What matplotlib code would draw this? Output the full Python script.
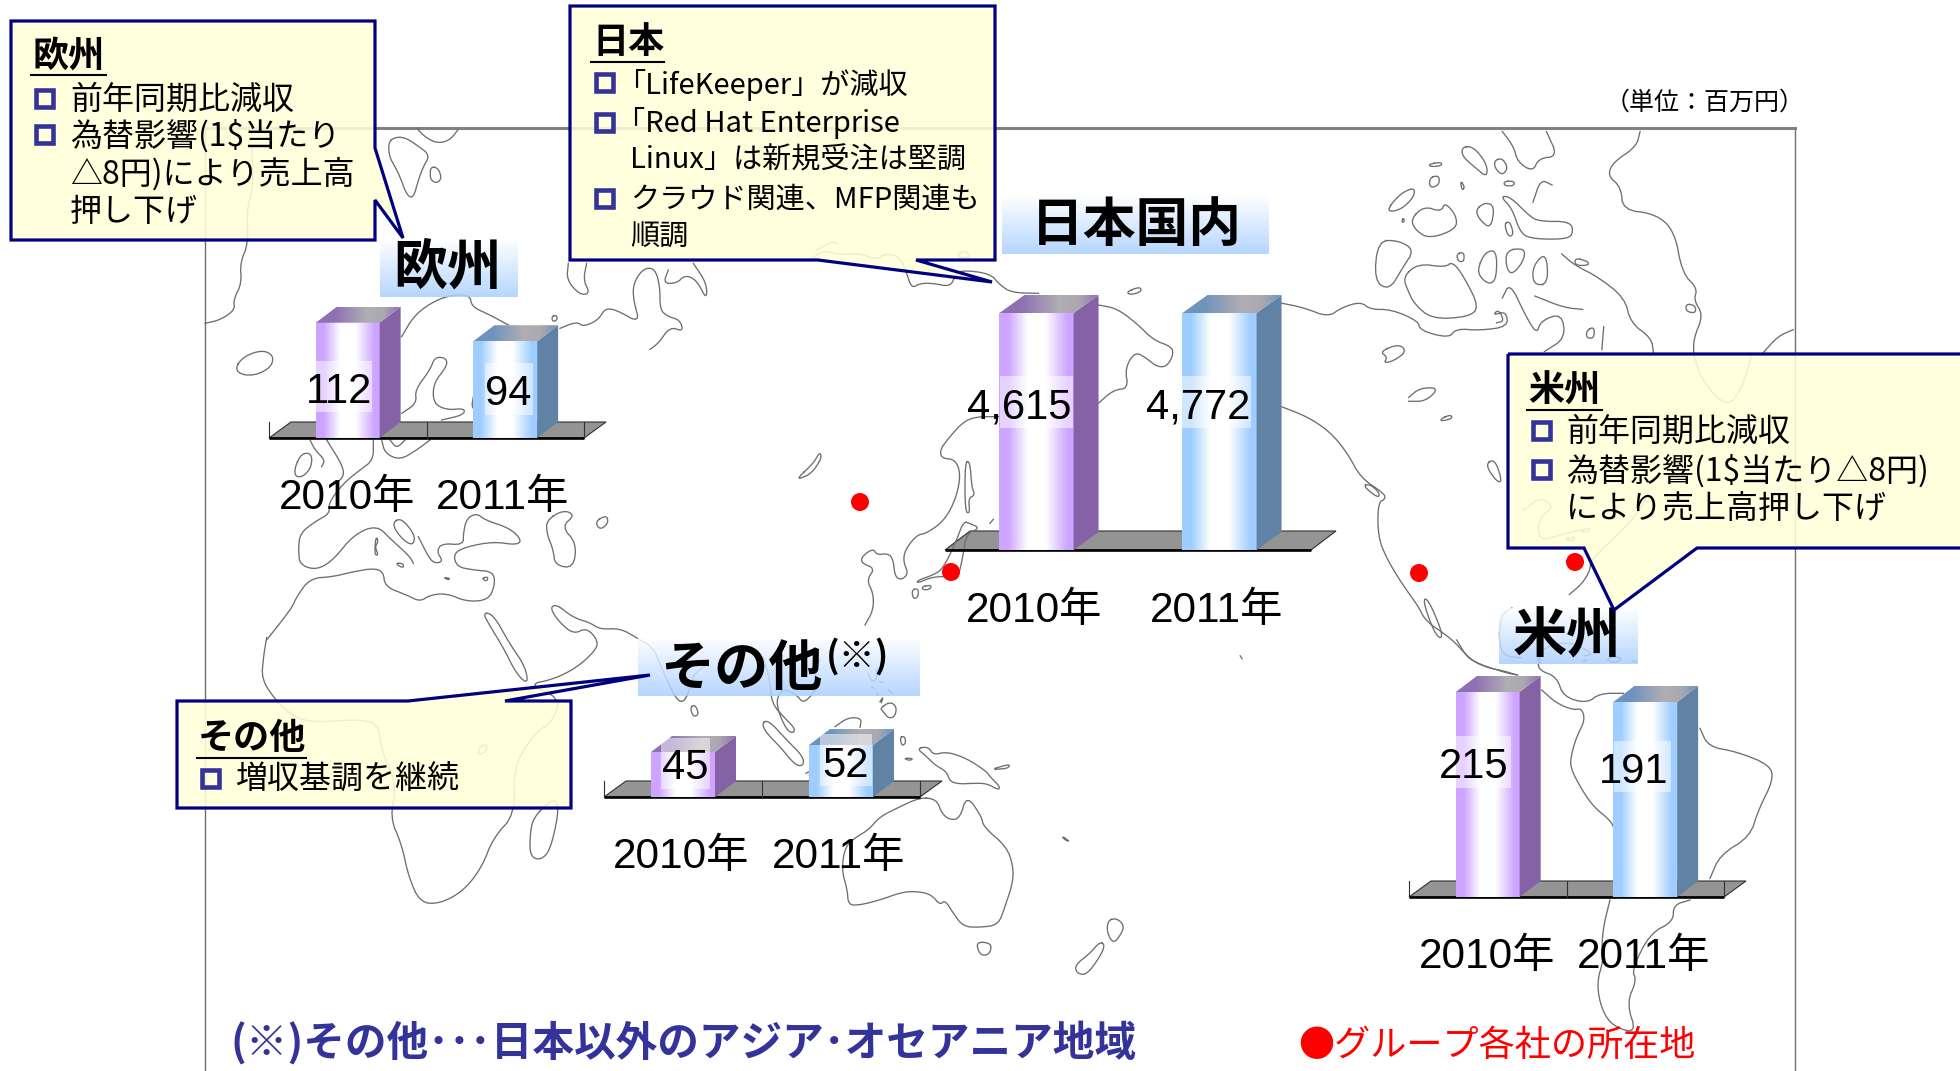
import numpy as np
import matplotlib
matplotlib.use('Agg')
import matplotlib.pyplot as plt
from matplotlib.patches import Polygon, Rectangle, Circle

plt.rcParams['font.family'] = ['Liberation Sans', 'Noto Sans CJK JP', 'DejaVu Sans']
CJK = ['Noto Sans CJK JP', 'DejaVu Sans']

W, H = 1960, 1071

# data
year_labels = ['2010年', '2011年']
europe_sales = [112, 94]
japan_sales = [4615, 4772]
americas_sales = [215, 191]
other_sales = [45, 52]

office_x = [860, 951, 1419, 1575]
office_y = [502, 572, 573, 562]

europe_notes = ['前年同期比減収', '為替影響(1$当たり', '△8円)により売上高', '押し下げ']
japan_notes = ['「LifeKeeper」が減収', '「Red Hat Enterprise', 'Linux」は新規受注は堅調',
               'クラウド関連、MFP関連も', '順調']
americas_notes = ['前年同期比減収', '為替影響(1$当たり△8円)', 'により売上高押し下げ']
other_notes = ['増収基調を継続']

# coastlines, traced by hand. Each entry: crop origin x, y, crop scale, list of outlines
coast_a = [
    [(650,25),(680,55),(715,70),(750,60),(775,28)],
    [(565,65),(590,50),(620,55),(650,75),(690,105),(670,140),(655,180),(640,235),(620,225),(600,170),(585,140),(568,110),(565,65)],
    [(695,140),(715,145),(725,175),(710,190),(692,180),(690,155),(695,140)],
    [(155,80),(160,200),(140,270),(145,370),(120,430),(125,490),(100,540),(105,570),(60,600),(15,610)],
    [(105,745),(130,710),(185,690),(220,705),(215,740),(170,765),(125,765),(105,745)],
    [(605,650),(640,590),(690,550),(750,525),(810,525),(815,560),(870,585),(925,615)],
    [(1080,625),(1130,605),(1150,620),(1195,600),(1215,565),(1250,570),(1320,610),(1300,540),(1300,490),(1330,445),(1365,445),(1380,500),(1380,570),(1405,590),(1440,600),(1450,635),(1410,620),(1375,670),(1350,688)],
    [(1105,430),(1100,480),(1140,525),(1170,520),(1150,480),(1160,430)],
    [(1405,450),(1390,490),(1430,490),(1455,465),(1490,480),(1520,540),(1520,490),(1480,430)],
    [(1055,590),(1070,585),(1072,600),(1058,605),(1055,590)],
    [(605,880),(650,850),(645,810),(690,750),(705,710),(740,715),(740,740),(700,790),(700,850),(740,870),(795,865),(790,885),(725,900)],
    [(820,830),(815,860),(825,870)],
    [(285,1040),(305,1000),(335,1000),(335,1040),(310,1070),(285,1070),(285,1040)],
    [(330,960),(345,990),(375,1020),(365,1040)],
    [(380,960),(430,1040),(430,1075),(390,1100)],
    [(545,960),(555,1000),(600,1020),(650,990),(690,960)],
    [(570,960),(590,985),(615,960)],
    [(520,960),(520,1020),(480,1050),(430,1090),(385,1150),(390,1180),(345,1205),(300,1240),(295,1290),(300,1335),(350,1350),(400,1320),(460,1245),(530,1215),(575,1260),(630,1310),(640,1330)],
    [(580,1205),(605,1195),(645,1245),(640,1275),(615,1265),(585,1230),(580,1205)],
    [(655,1250),(680,1300),(700,1330),(730,1325),(710,1295),(725,1270),(790,1275),(790,1240),(800,1195),(830,1180),(855,1200),(930,1225),(965,1260),(950,1275),(880,1265),(800,1280),(760,1300),(770,1340),(820,1350),(880,1355),(885,1395),(865,1440),(800,1445),(740,1420),(690,1425),(660,1445),(620,1425),(555,1400),(550,1355),(520,1345),(460,1355),(400,1370),(330,1375),(290,1430),(275,1465),(200,1560)],
    [(1040,1200),(1090,1170),(1125,1185),(1085,1220),(1130,1270),(1120,1345),(1065,1335),(1060,1290),(1040,1240),(1040,1200)],
    [(1185,1205),(1220,1185),(1225,1210),(1200,1230),(1185,1205)],
    [(730,1372),(750,1375),(745,1380),(730,1372)],
    [(845,1375),(865,1370),(860,1385),(845,1375)],
    [(585,1330),(610,1330),(610,1345),(585,1330)],
    [(528,1250),(535,1265),(525,1280),(535,1305),(525,1305),(525,1280),(528,1250)],
]
coast_b = [
    [(200,260),(190,320),(185,385),(225,445),(260,480),(310,510),(385,512),(480,505),(535,520),(545,600),(590,700),(570,800),(605,880),(625,975),(660,1055),(720,1058),(790,1020),(845,950),(880,860),(945,790),(940,650),(1000,550),(1060,510),(1080,440),(985,400),(1060,385),(1130,350),(1185,300),(1195,270),(1160,230),(1120,250),(1075,210),(1050,170),(1070,160),(1120,200),(1170,215),(1200,235),(1260,232),(1310,260),(1360,290),(1380,340),(1420,430),(1445,458),(1465,430),(1480,370),(1520,340)],
    [(848,185),(880,190),(930,280),(975,345),(985,400),(950,370),(910,290),(870,225),(848,185)],
    [(1470,470),(1485,460),(1497,490),(1480,498),(1470,470)],
    [(1000,800),(1050,750),(1070,750),(1075,790),(1050,900),(1020,928),(990,915),(990,850),(1000,800)],
    [(835,590),(860,578),(860,600),(838,612),(835,590)],
]
coast_c = [
    [(330,60),(370,30),(420,45),(480,40),(530,60),(555,40),(600,50),(620,100),(635,145),(660,130),(700,130),(750,140),(765,110),(780,90),(870,100),(900,135),(935,158),(1015,160)],
    [(1195,195),(1250,205),(1310,250),(1360,300),(1415,320),(1420,345),(1400,380),(1370,380),(1340,355),(1305,335),(1275,385),(1285,445),(1240,450),(1195,490)],
    [(900,530),(830,530),(790,545),(745,595),(720,630),(725,655),(765,658),(782,700),(770,770),(735,840),(680,880),(650,885),(615,930),(610,965),(625,1000),(605,1020),(585,1010),(580,960),(565,940),(530,945),(520,925),(485,950),(485,970),(525,985),(500,1020),(520,1060),(520,1110),(495,1155)],
    [(295,712),(340,670),(360,635),(365,655),(335,700),(300,716),(295,712)],
    [(795,665),(810,665),(815,740),(825,765),(805,775),(810,820),(795,815),(795,665)],
    [(790,845),(810,850),(840,865),(800,880),(790,940),(780,990),(770,1020),(750,1010),(700,1010),(650,1030),(655,1020),(700,1005),(730,985),(770,900),(790,845)],
    [(635,1050),(655,1045),(655,1070),(640,1078),(635,1050)],
    [(665,1040),(695,1035),(690,1048),(670,1050),(665,1040)],
    [(1280,155),(1320,140),(1325,155),(1290,165),(1280,155)],
    [(870,850),(880,838)],
    [(350,30),(395,5),(410,10)],
    [(770,45),(795,32),(810,50),(790,55),(770,45)],
]
coast_d = [
    [(130,50),(150,120),(155,190),(195,235),(225,265),(220,280),(200,270),(175,215),(170,175),(190,145),(230,165),(250,190),(280,160),(295,130),(280,95),(300,60)],
    [(125,250),(145,240),(200,300),(250,350),(250,378),(225,375),(180,320),(140,280),(125,250)],
    [(345,260),(385,232),(425,235),(420,262)],
    [(258,400),(270,393),(268,405)],
    [(480,205),(510,185),(530,200),(525,230),(505,235),(490,215),(480,205)],
    [(480,185),(490,170),(484,188)],
    [(455,140),(462,145)],[(470,160),(475,165)],[(505,150),(515,158)],[(478,125),(488,128)],
    [(445,100),(455,125),(470,120),(472,85)],
    [(540,290),(555,290),(557,310),(545,318),(540,290)],
    [(550,355),(580,355),(570,362),(550,355)],
    [(590,325),(625,320),(640,345),(680,335),(740,355),(800,395),(810,410),(840,440),(835,450),(800,430),(755,430),(720,432),(690,425),(680,395),(645,375),(620,350),(590,325)],
    [(825,385),(870,372),(865,385),(825,388)],
    [(600,472),(650,478),(665,520),(690,540),(720,535),(740,465),(785,530),(790,560),(860,620),(880,680),(878,730),(855,800),(835,855),(780,862),(730,860),(700,820),(675,780),(660,795),(635,765),(600,755),(550,755),(480,780),(420,795),(385,795),(382,750),(365,690),(375,620),(410,590),(445,570),(480,530),(530,505),(600,472)],
    [(770,905),(815,910),(810,940),(790,948),(775,935),(770,905)],
    [(1165,840),(1190,835),(1212,855),(1205,880),(1180,912),(1160,875),(1165,840)],
    [(1140,905),(1155,915),(1140,950),(1100,1005),(1070,1000),(1065,975),(1110,940),(1140,905)],
    [(1025,588),(1050,605),(1035,600),(1025,588)],
]
coast_e = [
    [(210,478),(270,490),(335,515),(370,490),(420,475),(445,495),(500,495),(570,525),(575,550),(650,570),(670,545),(730,550),(805,540),(800,500),(765,510),(780,495),(795,525),(775,530)],
    [(210,748),(280,775),(340,815),(385,870),(420,935),(480,975),(485,990),(465,1000),(465,1090),(490,1150),(530,1215),(570,1270),(590,1310),(650,1350),(685,1385),(710,1415),(800,1445),(830,1450)],
    [(582,1255),(595,1250),(632,1335),(630,1358),(610,1335),(582,1255)],
    [(425,955),(445,952),(470,975),(465,988),(425,955)],
    [(470,605),(520,585),(540,605),(505,630),(480,635),(490,620),(470,605)],
    [(545,725),(575,700),(625,700),(590,735),(545,735)],
    [(630,780),(655,770),(660,780),(630,787),(630,780)],
    [(745,900),(770,885),(790,945),(775,945),(745,900)],
    [(685,70),(715,70),(750,115),(750,150),(720,125),(685,95),(685,70)],
    [(770,105),(790,100),(805,125),(790,145),(770,125),(770,105)],
    [(600,115),(630,110),(632,120),(600,122),(600,115)],
    [(600,150),(625,145),(625,170),(600,178),(600,150)],
    [(680,158),(692,175),(685,185),(680,158)],
    [(795,160),(822,160),(820,172),(795,172),(795,160)],
    [(790,30),(820,70),(830,110),(870,135),(885,100),(935,95),(905,30)],
    [(1150,30),(1140,70),(1080,110),(1065,145),(1100,175),(1105,235),(1190,245),(1240,290),(1260,400),(1300,440),(1290,470),(1315,510),(1290,570),(1290,610)],
    [(1270,480),(1295,485),(1295,505),(1270,500),(1270,480)],
    [(1470,610),(1510,565),(1550,548)],
    [(870,215),(890,155),(920,170)],
    [(785,200),(810,200),(860,250),(885,265),(970,265),(975,300),(950,312),(860,310),(835,290),(815,230),(785,200)],
    [(720,235),(745,215),(770,225),(760,285),(730,260),(720,235)],
    [(795,270),(810,265),(820,300),(805,305),(795,270)],
    [(485,240),(520,195),(560,175),(560,200),(525,235),(485,240)],
    [(530,255),(535,265),(527,268),(530,255)],
    [(550,260),(585,225),(630,240),(640,215),(670,250),(670,285),(600,310),(565,290),(550,260)],
    [(465,315),(520,315),(560,340),(530,385),(495,445),(455,420),(465,315)],
    [(530,410),(570,375),(640,385),(660,370),(690,410),(730,490),(700,515),(605,520),(560,480),(545,450),(530,410)],
    [(670,350),(690,345),(690,370),(675,370),(670,350)],
    [(725,390),(745,345),(775,340),(775,410),(760,430),(735,415),(725,390)],
    [(800,340),(850,335),(845,370),(815,405),(800,385),(800,340)],
    [(910,430),(870,430),(870,380),(905,345),(910,430)],
    [(945,350),(980,380),(1040,410),(1110,465),(1125,530),(1180,570),(1185,610)],
    [(980,360),(1015,370),(1015,380),(980,380),(980,360)],
    [(790,465),(810,425),(850,510),(880,560),(890,525),(945,505),(955,570),(900,605)],
    [(875,460),(950,490),(1000,495)],
    [(1010,550),(1030,540),(1030,570),(1010,570),(1010,550)],
    [(1055,540),(1050,600)],
    [(965,1240),(1000,1210),(1020,1175),(1020,1150),(1100,1075),(1150,1020),(1170,980)],
    [(845,1020),(890,985),(925,1010),(885,1040),(885,1100),(940,1085),(1000,1070)],
    [(950,1095),(980,1088),(975,1100),(950,1095)],
    [(990,1075),(1020,1065),(1015,1078),(990,1075)],
    [(1290,610),(1310,680),(1380,755),(1420,690),(1440,620)],
    [(890,1420),(885,1385),(960,1360),(1030,1395),(1005,1400)],
    [(840,1405),(790,1400),(780,1345),(790,1290),(815,1275)],
    [(1060,1410),(1085,1400),(1105,1410),(1080,1418),(1060,1410)],
    [(1000,1415),(1010,1412)],[(1130,1415),(1140,1414)],
    [(105,1400),(110,1408)],
]
coast_f = [
    [(290,0),(320,50),(370,80),(440,95),(470,105)],
    [(535,55),(535,90),(590,110),(610,170),(680,190),(720,160),(790,160)],
    [(545,150),(590,190),(640,210),(665,205),(675,240),(650,290),(635,340),(630,380),(660,440),(700,500),(750,540),(765,570)],
    [(750,780),(730,860),(725,930),(730,960),(710,1030),(725,1110),(760,1160),(830,1180),(800,1090),(830,1020),(815,990),(870,880),(940,845),(940,795),(990,780)],
    [(1020,265),(1045,320),(1130,335),(1230,375),(1240,420),(1195,510),(1170,590),(1080,645),(1050,715)],
]
coast_parts = [(200, 120, 3.0, coast_a), (200, 551, 3.0, coast_b), (700, 240, 3.0, coast_c),
               (720, 640, 3.0, coast_d), (1200, 120, 2.613, coast_e), (1360, 640, 3.0, coast_f)]


def smooth(pts):
    # two rounds of corner cutting, the traced coast looks too angular otherwise
    pts = np.array(pts, float)
    for _ in range(2):
        if len(pts) < 3:
            return pts
        a = pts[:-1] * 0.75 + pts[1:] * 0.25
        b = pts[:-1] * 0.25 + pts[1:] * 0.75
        mid = np.empty((len(a) * 2, 2))
        mid[0::2] = a
        mid[1::2] = b
        closed = np.allclose(pts[0], pts[-1])
        if closed:
            pts = np.vstack([mid, mid[0]])
        else:
            pts = np.vstack([pts[0], mid, pts[-1]])
    return pts


fig = plt.figure(figsize=(W / 100, H / 100), dpi=100, facecolor='white')


def px_axes(z):
    a = fig.add_axes([0, 0, 1, 1], zorder=z)
    a.set_xlim(0, W)
    a.set_ylim(H, 0)
    a.axis('off')
    a.patch.set_alpha(0)
    return a


bg = px_axes(0)
top = px_axes(5)

# map frame
bg.plot([205, 205], [128, H], color='#707070', lw=1.0)
bg.plot([1795, 1795], [128, H], color='#707070', lw=1.0)
bg.plot([205, 1795], [128, 128], color='#808080', lw=2.2)

for ox, oy, s, outlines in coast_parts:
    for line in outlines:
        p = smooth(line)
        bg.plot(ox + p[:, 0] / s, oy + p[:, 1] / s, color='#6e6e6e', lw=0.95,
                solid_joinstyle='round')


def hgrad(stops, n=128):
    pos = [s[0] for s in stops]
    cols = np.array([matplotlib.colors.to_rgb(s[1]) for s in stops])
    t = np.linspace(0, 1, n)
    return np.dstack([np.interp(t, pos, cols[:, i]) for i in range(3)])


purple = dict(front='#CDA4FF', side='#8462A5', lid='#8F70B2')
blue = dict(front='#9FCDFF', side='#6083A5', lid='#6E93BD')


def draw_group(values, left, right, base_y, axis_h, ylim, depth, floor_depth, ticks,
               label_xy, label_box, year_xy, bar_w=0.405):
    # one small axes per region, the bars go through its own y scale
    ax = fig.add_axes([left / W, 1 - base_y / H, (right - left) / W, axis_h / H], zorder=2)
    ax.set_xlim(-0.5, 1.5)
    ax.set_ylim(*ylim)
    ax.axis('off')
    ax.patch.set_alpha(0)

    # floor
    fdx, fdy = floor_depth
    bg.add_patch(Polygon([(left, base_y), (right, base_y), (right + fdx, base_y - fdy),
                          (left + fdx, base_y - fdy)], closed=True, facecolor='#949494',
                         edgecolor='#303030', lw=0.8))
    bg.plot([left, right], [base_y, base_y], color='black', lw=1.9, solid_capstyle='butt')
    if ticks:
        for tx in [left, (left + right) / 2, right]:
            bg.plot([tx, tx], [base_y, base_y - 16], color='#303030', lw=0.8)

    to_px = lambda pts: top.transData.inverted().transform(ax.transData.transform(pts))
    dx, dy = depth
    for i, (val, style) in enumerate(zip(values, [purple, blue])):
        bar = ax.bar(i, val - ylim[0], bottom=ylim[0], width=bar_w, color='none', linewidth=0)[0]
        v_top = min(val, ylim[1])
        grad = hgrad([(0, style['front']), (0.12, style['front']), (0.38, '#FFFFFF'),
                      (0.62, '#FFFFFF'), (0.92, style['front']), (1, style['front'])])
        ax.imshow(grad, extent=(i - bar_w / 2, i + bar_w / 2, ylim[0], v_top),
                  aspect='auto', clip_path=bar, zorder=2)
        (x0, y1), (x1, y0) = to_px([(i - bar_w / 2, v_top), (i + bar_w / 2, ylim[0])])
        top.add_patch(Polygon([(x1, y1), (x1 + dx, y1 - dy), (x1 + dx, y0 - dy), (x1, y0)],
                              closed=True, facecolor=style['side'], edgecolor='none', zorder=3))
        lid = Polygon([(x0, y1), (x0 + dx, y1 - dy), (x1 + dx, y1 - dy), (x1, y1)],
                      closed=True, facecolor='none', edgecolor='none')
        top.add_patch(lid)
        im = top.imshow(hgrad([(0, style['lid']), (0.22, style['lid']), (0.6, '#B0AEB2'),
                               (0.8, '#ABA8B0'), (1, style['lid'])]),
                        extent=(x0, x1 + dx, y1, y1 - dy), aspect='auto', zorder=3)
        im.set_clip_path(lid)

        bx0, by0, bx1, by1 = label_box[i]
        top.add_patch(Rectangle((bx0, by0), bx1 - bx0, by1 - by0, facecolor='white',
                                alpha=0.5, edgecolor='none', zorder=4))
        top.text(label_xy[i][0], label_xy[i][1], f'{val:,}', fontsize=30, ha='center',
                 va='center', color='black', zorder=6)
        top.text(year_xy[i][0], year_xy[i][1], year_labels[i], fontsize=30.5, ha='center',
                 va='center', color='black', zorder=6)


# value scale of each group, the Japan axis is cut off so both bars reach its top
draw_group(europe_sales, 269, 584, 438, 140, (0, 136), (21, 16), (22, 16), True,
           [(339, 392), (508, 394)], [(316, 361, 372, 412), (485, 363, 533, 415)],
           [(347, 498), (503, 498)])
draw_group(japan_sales, 945, 1311, 550, 237, (0, 4000), (25, 18), (25, 19), False,
           [(1019, 408), (1198, 408)], [(1000, 376, 1073, 428), (1182, 376, 1251, 428)],
           [(1034, 611), (1217, 611)])
draw_group(americas_sales, 1409, 1724, 897, 205, (-277, 215), (21, 16), (22, 16), True,
           [(1474, 767), (1634, 772)], [(1456, 736, 1511, 788), (1614, 741, 1671, 792)],
           [(1487, 957), (1644, 957)])
draw_group(other_sales, 604, 920, 797, 60, (0, 60), (21, 16), (22, 16), True,
           [(685, 768), (846, 766)], [(661, 738, 710, 789), (820, 734, 872, 786)],
           [(681, 857), (839, 857)])


def title_box(x0, y0, x1, y1, text, tx, ty, size=39):
    n = 64
    g = np.ones((n, 1, 4))
    c0, c1 = np.array([1, 1, 1]), np.array(matplotlib.colors.to_rgb('#A9CFFF'))
    t = np.linspace(0, 1, n)[:, None]
    g[:, 0, :3] = c0 * (1 - t) + c1 * t
    g[:, 0, 3] = 0.85
    top.imshow(g, extent=(x0, x1, y1, y0), aspect='auto', zorder=4)
    top.text(tx, ty, text, fontsize=size, fontweight='bold', ha='center', va='center',
             family=CJK, zorder=6)


title_box(380, 239, 517, 297, '欧州', 447, 268)
title_box(1002, 195, 1269, 254, '日本国内', 1136, 225, 38)
title_box(1499, 608, 1637, 664, '米州', 1567, 637)
title_box(638, 637, 919, 696, 'その他', 741, 669)
top.text(858, 657, '(※)', fontsize=26, fontweight='bold', ha='center', va='center',
         family=CJK, zorder=6)


def callout(outline, title, tx, ty, tw, notes, note_x, note_y, bullets, bx, size=23):
    top.add_patch(Polygon(outline, closed=True, facecolor='#FFFFD9', alpha=0.88,
                          edgecolor='none', zorder=7))
    top.add_patch(Polygon(outline, closed=True, facecolor='none', edgecolor='#000080',
                          lw=2.3, joinstyle='miter', zorder=8))
    top.text(tx, ty, title, fontsize=26, fontweight='bold', va='center', family=CJK, zorder=9)
    top.plot([tx - 1, tx + tw], [ty + 19, ty + 19], color='black', lw=1.5, zorder=9)
    for by in bullets:
        top.add_patch(Rectangle((bx + 3, by - 8), 17, 17, facecolor='none',
                                edgecolor='#333399', lw=3.3, joinstyle='miter', zorder=9))
    for s, x, y in zip(notes, note_x, note_y):
        top.text(x, y, s, fontsize=size, va='center', family=CJK, zorder=9)


callout([(11, 21), (375, 21), (375, 148), (403, 238), (375, 200), (375, 240), (11, 240)],
        '欧州', 32, 56, 74, europe_notes, [70] * 4, [100, 136, 174, 212], [98, 134], 33)
callout([(570, 6), (995, 6), (995, 260), (916, 260), (992, 282), (818, 260), (570, 260)],
        '日本', 592, 43, 72, japan_notes, [616, 616, 630, 630, 630], [85, 123, 161, 200, 238],
        [82, 122, 198], 593, size=21)
callout([(1508, 354), (1975, 354), (1975, 548), (1697, 548), (1614, 610), (1584, 548), (1508, 548)],
        '米州', 1528, 391, 74, americas_notes, [1566] * 3, [432, 471, 509], [430, 469], 1530)
callout([(177, 701), (408, 701), (650, 675), (505, 701), (571, 701), (571, 808), (177, 808)],
        'その他', 198, 739, 108, other_notes, [236], [780], [778], 199)

for x, y in zip(office_x, office_y):
    top.add_patch(Circle((x, y), 9, facecolor='#FF0000', edgecolor='none', zorder=6))

top.text(1705, 103, '（単位：百万円）', fontsize=18, ha='center', va='center', family=CJK, zorder=6)
top.text(230, 1043, '(※)その他･･･日本以外のアジア･オセアニア地域', fontsize=30, fontweight='bold',
         color='#333399', va='center', family=CJK, zorder=6)
top.text(1298, 1046, '●グループ各社の所在地', fontsize=26, color='#FF0000', va='center',
         family=CJK, zorder=6)

top.set_xlim(0, W)
top.set_ylim(H, 0)
fig.savefig('out.png', dpi=100)
